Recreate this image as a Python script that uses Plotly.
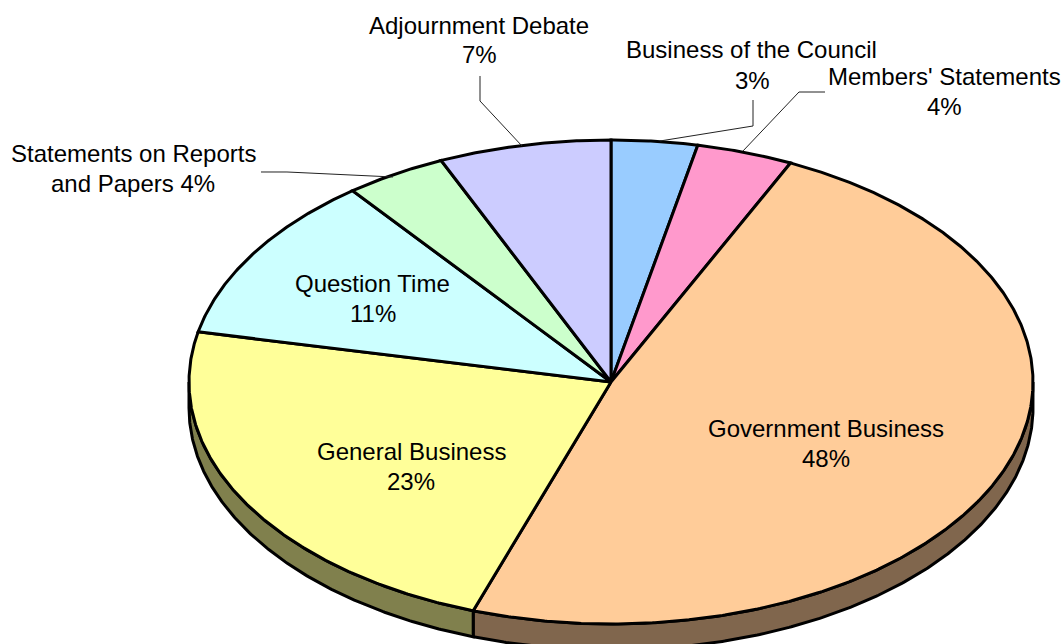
import numpy as np
import plotly.graph_objects as go

# Data, clockwise from 12 o'clock
categories = ["Business of the Council", "Members' Statements", "Government Business",
              "General Business", "Question Time", "Statements on Reports and Papers",
              "Adjournment Debate"]
values = [3.3, 3.7, 48.35, 23.05, 11.2, 3.9, 6.6]
percent_labels = ["3%", "4%", "48%", "23%", "11%", "4%", "7%"]
top_colors = ["#99CCFF", "#FF99CC", "#FFCC99", "#FFFF99", "#CCFFFF", "#CCFFCC", "#CCCCFF"]
side_colors = ["#4D6680", "#804D66", "#80664D", "#80804D", "#668080", "#668066", "#666680"]

W, H = 1062, 644
CX, CY, RX, RY, DEPTH = 611, 382, 422, 242, 26


def arc(a0, a1):
    t = np.radians(np.linspace(a0, a1, max(2, int(abs(a1 - a0) * 3) + 1)))
    return np.sin(t), np.cos(t)


fig = go.Figure()
edges = np.concatenate([[0], np.cumsum(values)]) / np.sum(values) * 360
d = DEPTH / RY

# Extruded side, only the part facing the viewer (90 to 270 degrees)
for a0, a1, col in zip(edges[:-1], edges[1:], side_colors):
    lo, hi = max(a0, 90), min(a1, 270)
    if hi <= lo:
        continue
    x, y = arc(lo, hi)
    xs = np.concatenate([x, x[::-1], x[:1]])
    ys = np.concatenate([y, y[::-1] - d, y[:1]])
    fig.add_trace(go.Scatter(x=xs, y=ys, mode="lines", fill="toself", fillcolor=col,
                             line=dict(color="black", width=3), hoverinfo="skip"))

# Top face
for a0, a1, col, name in zip(edges[:-1], edges[1:], top_colors, categories):
    x, y = arc(a0, a1)
    xs = np.concatenate([[0], x, [0]])
    ys = np.concatenate([[0], y, [0]])
    fig.add_trace(go.Scatter(x=xs, y=ys, mode="lines", fill="toself", fillcolor=col,
                             line=dict(color="black", width=3), name=name, hoverinfo="name"))


def px(x):
    return x / W


def py(y):
    return 1 - y / H


label_lines = [
    ("Adjournment Debate", 479, 25), (percent_labels[6], 479, 55),
    ("Business of the Council", 751, 50), (percent_labels[0], 752, 80),
    ("Members' Statements", 944, 77), (percent_labels[1], 944.5, 106),
    ("Statements on Reports", 133, 154), ("and Papers " + percent_labels[5], 133, 183),
    (categories[4], 372, 283.5), (percent_labels[4], 373, 313.5),
    (categories[3], 411, 451.5), (percent_labels[3], 411, 481),
    (categories[2], 826, 428.5), (percent_labels[2], 826, 458.5),
]
annotations = [dict(text=t, x=px(x), y=py(y), xref="paper", yref="paper", showarrow=False,
                    xanchor="center", yanchor="middle",
                    font=dict(family="Liberation Sans, Arial, sans-serif", size=24, color="black"))
               for t, x, y in label_lines]

leaders = [
    [(480, 76), (480, 101), (522, 146)],
    [(261, 172), (287, 172), (393, 177)],
    [(753, 100), (753, 126), (660, 141)],
    [(825, 92), (799, 92), (743, 151)],
]
shapes = []
for pts in leaders:
    path = "M " + " L ".join(f"{px(a):.5f},{py(b):.5f}" for a, b in pts)
    shapes.append(dict(type="path", path=path, xref="paper", yref="paper",
                       line=dict(color="#222222", width=1)))

fig.update_layout(
    width=W, height=H, margin=dict(l=0, r=0, t=0, b=0), showlegend=False,
    paper_bgcolor="white", plot_bgcolor="white",
    xaxis=dict(range=[-CX / RX, (W - CX) / RX], visible=False, fixedrange=True),
    yaxis=dict(range=[-(H - CY) / RY, CY / RY], visible=False, fixedrange=True),
    annotations=annotations, shapes=shapes,
)
fig.write_html("out.html", config=dict(displayModeBar=False),
               post_script="document.body.style.margin='0';document.body.style.overflow='hidden';")
